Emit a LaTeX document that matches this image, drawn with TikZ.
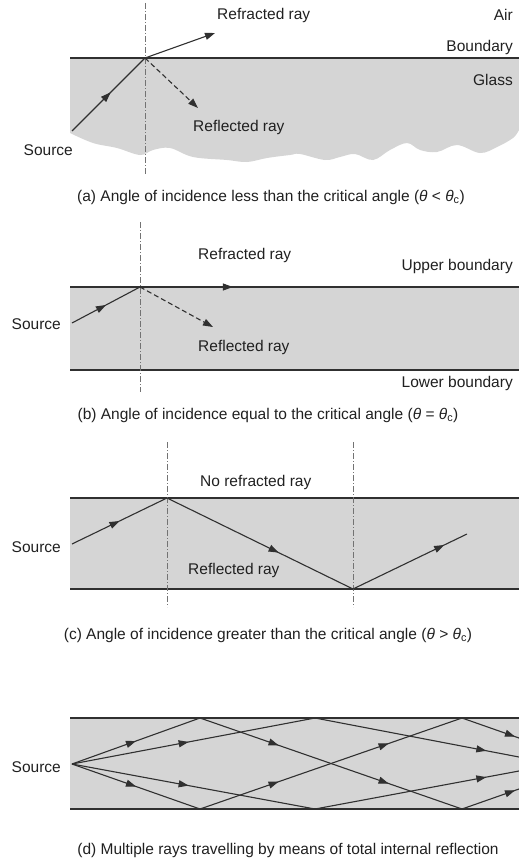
\documentclass[tikz,border=0pt]{standalone}
\usepackage{fontspec}
\setmainfont{Liberation Sans}
\usetikzlibrary{arrows.meta,decorations.markings}
\definecolor{glass}{HTML}{D5D5D5}
\definecolor{ink}{HTML}{303030}
\definecolor{txt}{HTML}{202020}
\begin{document}
\begin{tikzpicture}[x=1pt,y=-1pt,
  lbl/.style={inner sep=0pt,font=\fontsize{15.5}{18}\selectfont,text=txt},
  captxt/.style={lbl},
  bnd/.style={draw=ink,line width=1.4pt},
  ray/.style={draw=ink,line width=1.1pt},
  dray/.style={ray,dash pattern=on 5pt off 3pt},
  normline/.style={draw=gray!90!black,line width=0.9pt,dash pattern=on 6pt off 2pt on 1pt off 2pt},
  tipend/.style={-{Triangle[length=10pt,width=7pt]}},
  ma/.style={postaction={decorate,decoration={markings,mark=at position #1 with {\arrow{Triangle[length=10pt,width=7pt]}}}}},
]
\useasboundingbox (0,0) rectangle (519,867);

% ---------- (a) ----------
\fill[glass] (70,58) -- (519,58) -- plot[smooth,tension=0.6] coordinates {(519,130) (513,138) (497,147) (480,153) (457,145) (437,152) (420,150) (407,143) (390,150) (373,160) (355,154) (340,157) (325,160) (300,154) (290,155) (267,158) (247,162) (227,160) (193,157) (170,148) (153,150) (140,155) (117,148) (93,143) (70,133)} -- cycle;
\draw[bnd] (70,58) -- (519,58);
\coordinate (pa) at (145,58);
\coordinate (na1) at (145,3);
\coordinate (na2) at (145,175);
\draw[normline] (na1) -- (na2);
\coordinate (sa) at (72,131);
\coordinate (ra) at (215,33);
\coordinate (fa) at (198,108);
\draw[ray,ma=0.53] (sa) -- (pa);
\draw[ray,tipend] (pa) -- (ra);
\draw[dray,tipend] (pa) -- (fa);
\node[lbl,anchor=west] (refra) at (217,15) {Refracted ray};
\node[lbl,anchor=east] (air) at (513,15) {Air};
\node[lbl,anchor=east] (bound) at (513,47) {Boundary};
\node[lbl,anchor=east] (glasslbl) at (513,80) {Glass};
\node[lbl,anchor=west] (refla) at (193,127) {Reflected ray};
\node[lbl,anchor=east] (srca) at (73,150) {Source};
\node[captxt] (capa) at (271,197) {(a) Angle of incidence less than the critical angle (\textit{θ} < \textit{θ}\textsubscript{c})};

% ---------- (b) ----------
\fill[glass] (70,287) rectangle (519,370);
\draw[bnd] (70,287) -- (519,287);
\draw[bnd] (70,370) -- (519,370);
\coordinate (pb) at (140,287);
\coordinate (nb1) at (140,222);
\coordinate (nb2) at (140,392);
\draw[normline] (nb1) -- (nb2);
\coordinate (sb) at (72,323);
\coordinate (rb) at (519,287);
\coordinate (fb) at (213,327);
\draw[ray,ma=0.5] (sb) -- (pb);
\draw[ray,ma=0.245] (pb) -- (rb);
\draw[dray,tipend] (pb) -- (fb);
\node[lbl,anchor=west] (refrb) at (198,255) {Refracted ray};
\node[lbl,anchor=east] (upb) at (513,266) {Upper boundary};
\node[lbl,anchor=west] (reflb) at (198,347) {Reflected ray};
\node[lbl,anchor=east] (lowb) at (513,383) {Lower boundary};
\node[lbl,anchor=east] (srcb) at (61,324) {Source};
\node[captxt] (capb) at (268,415) {(b) Angle of incidence equal to the critical angle (\textit{θ} = \textit{θ}\textsubscript{c})};

% ---------- (c) ----------
\fill[glass] (70,498) rectangle (519,589);
\draw[bnd] (70,498) -- (519,498);
\draw[bnd] (70,589) -- (519,589);
\coordinate (pc1) at (167,498);
\coordinate (pc2) at (353,589);
\coordinate (nc1a) at (167,442);
\coordinate (nc1b) at (167,607);
\coordinate (nc2a) at (353,442);
\coordinate (nc2b) at (353,607);
\draw[normline] (nc1a) -- (nc1b);
\draw[normline] (nc2a) -- (nc2b);
\coordinate (sc) at (72,544);
\coordinate (ec) at (467,534);
\draw[ray,ma=0.5] (sc) -- (pc1);
\draw[ray,ma=0.6] (pc1) -- (pc2);
\draw[ray,ma=0.8] (pc2) -- (ec);
\node[lbl,anchor=west] (norefr) at (200,482) {No refracted ray};
\node[lbl,anchor=west] (reflc) at (188,570) {Reflected ray};
\node[lbl,anchor=east] (srcc) at (61,547) {Source};
\node[captxt] (capc) at (268,635) {(c) Angle of incidence greater than the critical angle (\textit{θ} > \textit{θ}\textsubscript{c})};

% ---------- (d) ----------
\fill[glass] (70,718) rectangle (519,809);
\draw[bnd] (70,718) -- (519,718);
\draw[bnd] (70,809) -- (519,809);
\coordinate (sd) at (72,764);
\coordinate (u1) at (200,718);
\coordinate (l1) at (200,809);
\coordinate (u2) at (315,718);
\coordinate (l2) at (315,809);
\coordinate (u3) at (462,718);
\coordinate (l3) at (462,809);
\coordinate (e1) at (519,789);
\coordinate (e2) at (519,738);
\coordinate (e3) at (519,757);
\coordinate (e4) at (519,771);
% ray 1
\draw[ray,ma=0.5] (sd) -- (u1);
\draw[ray,ma=0.3,ma=0.72] (u1) -- (l3);
\draw[ray,ma=0.93] (l3) -- (e1);
% ray 2
\draw[ray,ma=0.5] (sd) -- (l1);
\draw[ray,ma=0.3,ma=0.72] (l1) -- (u3);
\draw[ray,ma=0.93] (u3) -- (e2);
% ray 3
\draw[ray,ma=0.48] (sd) -- (u2);
\draw[ray,ma=0.84] (u2) -- (e3);
% ray 4
\draw[ray,ma=0.48] (sd) -- (l2);
\draw[ray,ma=0.84] (l2) -- (e4);
\node[lbl,anchor=east] (srcd) at (61,767) {Source};
\node[captxt] (capd) at (288,850) {(d) Multiple rays travelling by means of total internal reflection};
\end{tikzpicture}
\end{document}
